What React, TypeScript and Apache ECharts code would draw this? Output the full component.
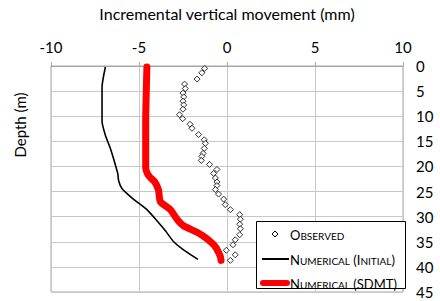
import React, { useEffect, useRef } from "react";
import * as echarts from "echarts";

// Observed (depth m, movement mm)
const observedDepth = [0.5, 1.35, 2.6, 3.6, 4.5, 5.4, 6.15, 7.0, 7.75, 8.6, 9.7, 10.5, 11.6, 12.4, 13.65, 14.7, 15.4, 16.4, 17.4, 18.0, 18.8, 19.6, 20.6, 21.4, 22.3, 23.1, 23.8, 24.6, 25.5, 26.5, 27.6, 28.6, 29.6, 30.5, 31.5, 32.4, 33.6, 34.6, 35.6, 36.7, 37.6, 38.7];
const observedMove = [-1.27, -1.43, -1.7, -2.41, -2.37, -2.5, -2.46, -2.5, -2.46, -2.5, -2.7, -2.52, -2.1, -1.99, -1.61, -1.29, -1.23, -1.29, -1.36, -1.43, -1.46, -0.99, -0.57, -0.76, -0.66, -0.57, -0.57, -0.66, -0.48, -0.19, -0.1, 0.19, 0.72, 0.76, 0.72, 0.76, 0.72, 0.47, 0.34, -0.04, 0.47, 0.19];

// Numerical (Initial)
const initialDepth = [0.2, 4.2, 11.0, 13.8, 16.4, 19.6, 21.5, 22.8, 24.4, 26.0, 27.3, 28.6, 30.8, 32.8, 35.0, 36.6, 38.5];
const initialMove = [-6.91, -7.1, -7.1, -6.91, -6.63, -6.35, -6.2, -6.16, -5.97, -5.49, -5.02, -4.55, -3.98, -3.5, -3.03, -2.47, -1.65];

// Numerical (SDMT)
const sdmtDepth = [0.2, 11.3, 20.3, 21.5, 22.2, 23.1, 24.7, 27.0, 28.6, 30.5, 31.8, 33.1, 34.4, 36.0, 37.9, 38.7];
const sdmtMove = [-4.55, -4.62, -4.62, -4.51, -4.36, -4.1, -3.89, -3.79, -3.22, -2.84, -2.47, -1.7, -1.14, -0.66, -0.38, -0.34];

const seriesNames = ["Observed", "Numerical (Initial)", "Numerical (SDMT)"];
const xTitle = "Incremental vertical movement (mm)";
const yTitle = "Depth (m)";

const FONT = "Lato, 'Open Sans', sans-serif";

function smallCaps(s: string): string {
  let out = "";
  let cur = "";
  let curCls = "";
  for (const ch of s) {
    const isLower = ch >= "a" && ch <= "z";
    const cls = isLower ? "s" : "b";
    const c = isLower ? ch.toUpperCase() : ch;
    if (cls !== curCls && cur) {
      out += `{${curCls}|${cur}}`;
      cur = "";
    }
    curCls = cls;
    cur += c;
  }
  if (cur) out += `{${curCls}|${cur}}`;
  return out;
}

export default function App() {
  const ref = useRef<HTMLDivElement>(null);
  useEffect(() => {
    if (!ref.current) return;
    const chart = echarts.init(ref.current, undefined, { renderer: "svg" });
    const pair = (xs: number[], ds: number[]) => xs.map((x, i) => [x, ds[i]]);
    const rich = {
      b: { fontSize: 13, fontFamily: FONT, fill: "#000", color: "#000", verticalAlign: "bottom", lineHeight: 15 },
      s: { fontSize: 10, fontFamily: FONT, fill: "#000", color: "#000", verticalAlign: "bottom", lineHeight: 15, padding: [0, 0, 1, 0] },
    };
    const legendYs = [234, 259, 283];
    chart.setOption({
      animation: false,
      backgroundColor: "#fff",
      grid: {
        left: 51,
        right: 37,
        top: 58,
        bottom: 9,
        show: true,
        borderColor: "#a6a6a6",
        borderWidth: 1,
        containLabel: false,
      },
      xAxis: {
        type: "value",
        position: "top",
        min: -10,
        max: 10,
        interval: 5,
        name: xTitle,
        nameLocation: "middle",
        nameGap: 45,
        nameTextStyle: { fontSize: 16, fontFamily: FONT, color: "#000" },
        axisLine: { show: true, lineStyle: { color: "#a6a6a6", width: 1 } },
        axisTick: { show: true, length: 4, lineStyle: { color: "#a6a6a6" } },
        axisLabel: { margin: 12, fontSize: 15, fontFamily: FONT, color: "#000" },
        splitLine: { show: true, lineStyle: { color: "#c8c8c8", width: 1 } },
      },
      yAxis: {
        type: "value",
        position: "right",
        inverse: true,
        min: 0,
        max: 45,
        interval: 5,
        axisLine: { show: false },
        axisTick: { show: false },
        axisLabel: { margin: 13, fontSize: 15, fontFamily: FONT, color: "#000" },
        splitLine: { show: true, lineStyle: { color: "#c8c8c8", width: 1 } },
      },
      series: [
        {
          name: seriesNames[1],
          type: "line",
          data: pair(initialMove, initialDepth),
          symbol: "none",
          smooth: 0.2,
          lineStyle: { color: "#000", width: 1.6 },
          z: 3,
        },
        {
          name: seriesNames[2],
          type: "line",
          data: pair(sdmtMove, sdmtDepth),
          symbol: "none",
          smooth: 0.2,
          lineStyle: { color: "#ff0000", width: 7, cap: "round", join: "round" },
          z: 3,
        },
        {
          name: seriesNames[0],
          type: "scatter",
          data: pair(observedMove, observedDepth),
          symbol: "diamond",
          symbolSize: 6,
          itemStyle: { color: "#fff", borderColor: "#000", borderWidth: 1 },
          z: 4,
        },
      ],
      graphic: [
        {
          type: "text",
          x: 20,
          y: 125,
          rotation: Math.PI / 2,
          style: {
            text: yTitle,
            fontSize: 15,
            fontFamily: FONT,
            fill: "#000",
            align: "center",
            verticalAlign: "middle",
            textAlign: "center",
            textVerticalAlign: "middle",
          },
        },
        {
          type: "rect",
          shape: { x: 256.5, y: 221.5, width: 149, height: 67 },
          style: { fill: "#fff", stroke: "#000", lineWidth: 1 },
          z: 10,
        },
        {
          type: "polygon",
          shape: { points: [[275, legendYs[0] - 3], [278, legendYs[0]], [275, legendYs[0] + 3], [272, legendYs[0]]] },
          style: { fill: "#fff", stroke: "#000", lineWidth: 1 },
          z: 11,
        },
        {
          type: "line",
          shape: { x1: 262, y1: legendYs[1], x2: 289, y2: legendYs[1] },
          style: { stroke: "#000", lineWidth: 2 },
          z: 11,
        },
        {
          type: "line",
          shape: { x1: 263, y1: legendYs[2], x2: 287, y2: legendYs[2] },
          style: { stroke: "#ff0000", lineWidth: 6, lineCap: "round" },
          z: 11,
        },
        ...seriesNames.map((n, i) => ({
          type: "text",
          x: 290,
          y: legendYs[i],
          z: 11,
          style: {
            text: smallCaps(n),
            rich,
            fontFamily: FONT,
            verticalAlign: "middle",
            textVerticalAlign: "middle",
            fill: "#000",
          },
        })),
      ],
    });
    return () => chart.dispose();
  }, []);
  return (
    <div
      ref={ref}
      style={{ position: "fixed", left: 0, top: 0, width: 440, height: 301 }}
    />
  );
}
